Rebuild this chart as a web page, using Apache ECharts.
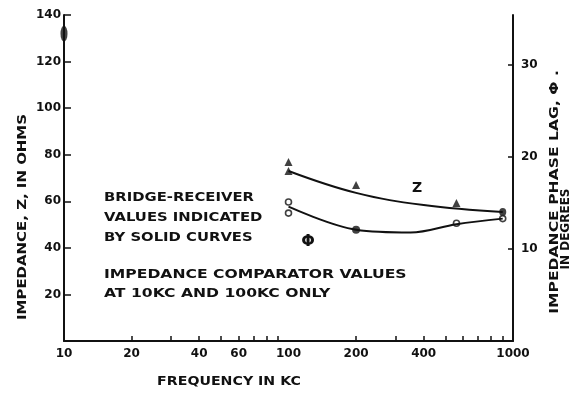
<!DOCTYPE html>
<html>
<head>
<meta charset="utf-8">
<script src="https://cdn.jsdelivr.net/npm/echarts@6/dist/echarts.min.js"></script>
<style>
  html, body { margin: 0; padding: 0; background: #fff; }
  #chart { width: 581px; height: 394px; }
</style>
</head>
<body>
<div id="chart"></div>
<script>
// Frequency (kc) and readings for the two bridge-receiver curves
const zCurveFreq = [100, 200, 400, 900];
const zCurveOhms = [73.0, 63.6, 58.4, 55.4];

const phiCurveFreq = [100, 200, 350, 560, 900];
const phiCurveDeg = [14.6, 12.1, 11.8, 12.7, 13.3];

// Individual measured points
const zPointFreq = [100, 100, 200, 560];
const zPointOhms = [76.9, 73.0, 67.0, 59.3];

const zEndFreq = [900];
const zEndOhms = [55.4];

const phiOpenFreq = [100, 100, 560, 900];
const phiOpenDeg = [15.1, 13.9, 12.8, 13.3];

const phiSolidFreq = [200];
const phiSolidDeg = [12.1];

// Impedance comparator reading at 10 kc
const comparatorFreq = [10];
const comparatorOhms = [132];

// Axis ticks and labels
const freqLabels = [10, 20, 40, 60, 100, 200, 400, 1000];
const freqTicks = [20, 30, 40, 50, 60, 70, 80, 90, 200, 300, 400, 500, 600, 700, 800, 900];
const ohmLabels = [20, 40, 60, 80, 100, 120, 140];
const degLabels = [10, 20, 30];

const pairs = (xs, ys) => xs.map((x, i) => [x, ys[i]]);

const FONT = '"DejaVu Sans", "Liberation Sans", sans-serif';
const INK = '#111';

const chart = echarts.init(document.getElementById('chart'), null, { renderer: 'canvas' });

function label(text, x, y, size, sx, rot) {
  return {
    type: 'text',
    x: x, y: y,
    rotation: rot || 0,
    scaleX: sx || 1,
    style: {
      text: text,
      font: 'bold ' + size + 'px ' + FONT,
      fill: INK,
      align: 'left', textAlign: 'left',
      verticalAlign: 'middle', textVerticalAlign: 'middle'
    }
  };
}
function centered(text, x, y, size, sx, rot) {
  const g = label(text, x, y, size, sx, rot);
  g.style.align = 'center';
  g.style.textAlign = 'center';
  return g;
}

const tickFont = { color: INK, fontFamily: FONT, fontWeight: 'bold', fontSize: 12 };

const option = {
  animation: false,
  backgroundColor: '#fff',
  grid: { left: 64, right: 68, top: 15, bottom: 53, containLabel: false },
  xAxis: {
    type: 'log',
    logBase: 10,
    min: 10,
    max: 1000,
    axisLine: { show: true, lineStyle: { color: INK, width: 2 } },
    axisTick: { show: true, inside: true, length: 5, customValues: freqTicks, lineStyle: { color: INK, width: 1.5 } },
    minorTick: { show: false },
    axisLabel: Object.assign({
      customValues: freqLabels,
      margin: 7,
      formatter: v => String(Math.round(v))
    }, tickFont),
    splitLine: { show: false }
  },
  yAxis: [
    {
      type: 'value',
      min: 0,
      max: 140,
      position: 'left',
      axisLine: { show: true, lineStyle: { color: INK, width: 2 } },
      axisTick: { show: true, inside: true, length: 7, customValues: ohmLabels, lineStyle: { color: INK, width: 1.5 } },
      axisLabel: Object.assign({ customValues: ohmLabels, margin: 3 }, tickFont),
      splitLine: { show: false }
    },
    {
      type: 'value',
      min: 0,
      max: 35.43,
      position: 'right',
      axisLine: { show: true, lineStyle: { color: INK, width: 2 } },
      axisTick: { show: true, inside: true, length: 5, customValues: degLabels, lineStyle: { color: INK, width: 1.5 } },
      axisLabel: Object.assign({ customValues: degLabels, margin: 8 }, tickFont),
      splitLine: { show: false }
    }
  ],
  series: [
    {
      name: 'Z',
      type: 'line',
      yAxisIndex: 0,
      smooth: 0.4,
      showSymbol: false,
      lineStyle: { color: INK, width: 2 },
      data: pairs(zCurveFreq, zCurveOhms)
    },
    {
      name: 'Φ',
      type: 'line',
      yAxisIndex: 1,
      smooth: 0.35,
      showSymbol: false,
      lineStyle: { color: INK, width: 2 },
      data: pairs(phiCurveFreq, phiCurveDeg)
    },
    {
      name: 'Z points',
      type: 'scatter',
      yAxisIndex: 0,
      symbol: 'triangle',
      symbolSize: 8,
      itemStyle: { color: INK },
      data: pairs(zPointFreq, zPointOhms)
    },
    {
      name: 'Z end',
      type: 'scatter',
      yAxisIndex: 0,
      symbol: 'circle',
      symbolSize: [7, 8],
      itemStyle: { color: INK },
      data: pairs(zEndFreq, zEndOhms)
    },
    {
      name: 'Φ open points',
      type: 'scatter',
      yAxisIndex: 1,
      symbol: 'circle',
      symbolSize: 6,
      itemStyle: { color: '#fff', borderColor: INK, borderWidth: 1.6 },
      data: pairs(phiOpenFreq, phiOpenDeg)
    },
    {
      name: 'Φ solid points',
      type: 'scatter',
      yAxisIndex: 1,
      symbol: 'circle',
      symbolSize: 8,
      itemStyle: { color: INK },
      data: pairs(phiSolidFreq, phiSolidDeg)
    },
    {
      name: 'Comparator',
      type: 'scatter',
      yAxisIndex: 0,
      symbol: 'circle',
      symbolSize: [7, 16],
      clip: false,
      itemStyle: { color: INK },
      data: pairs(comparatorFreq, comparatorOhms)
    }
  ],
  graphic: [
    // axis titles
    centered('IMPEDANCE, Z, IN OHMS', 23, 217, 13, 1.15, Math.PI / 2),
    centered('FREQUENCY IN KC', 229, 382, 13, 1.09, 0),
    centered('IMPEDANCE PHASE LAG, Φ .', 555, 192, 12, 1.3, Math.PI / 2),
    centered('IN DEGREES', 566, 229, 12, 1.0, Math.PI / 2),
    // notes
    label('BRIDGE-RECEIVER', 104, 198, 13, 1.14),
    label('VALUES INDICATED', 104, 218, 13, 1.14),
    label('BY SOLID CURVES', 104, 238, 13, 1.14),
    label('IMPEDANCE COMPARATOR VALUES', 104, 275, 13, 1.2),
    label('AT 10KC AND 100KC ONLY', 104, 294, 13, 1.2),
    // curve labels
    centered('Z', 417, 188, 14, 1, 0),
    centered('Φ', 308, 242, 16, 1, 0)
  ]
};

chart.setOption(option);
</script>
</body>
</html>
